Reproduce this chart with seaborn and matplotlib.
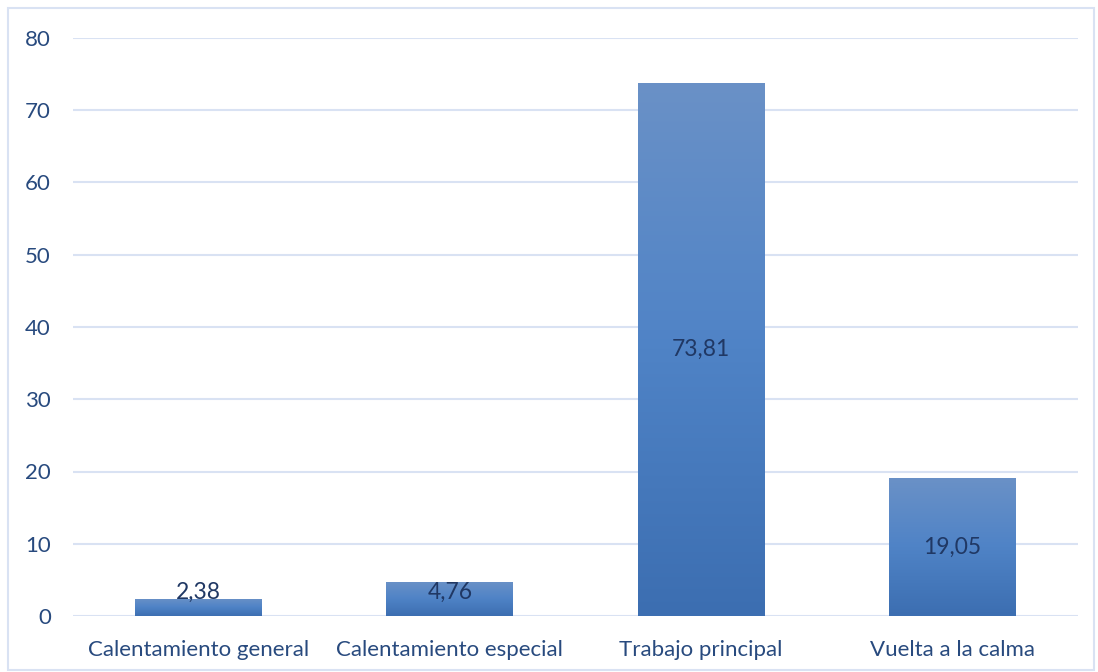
import numpy as np
import pandas as pd
import matplotlib
matplotlib.use("Agg")
import matplotlib.pyplot as plt
import seaborn as sns
from matplotlib.colors import LinearSegmentedColormap
from matplotlib.patches import Rectangle

categories = ["Calentamiento general", "Calentamiento especial",
              "Trabajo principal", "Vuelta a la calma"]
values = [2.38, 4.76, 73.81, 19.05]
value_labels = ["2,38", "4,76", "73,81", "19,05"]
y_ticks = [0, 10, 20, 30, 40, 50, 60, 70, 80]

sns.set_theme(style="white")
plt.rcParams["font.family"] = ["Lato", "DejaVu Sans"]

text_color = "#284a7e"
label_color = "#203864"
grid_color = "#d9e2f3"

df = pd.DataFrame({"fase": categories, "valor": values})

fig = plt.figure(figsize=(10.98, 6.72), dpi=100)
ax = fig.add_axes([73 / 1098, 1 - 616 / 672, (1078 - 73) / 1098, (616 - 38) / 672])

sns.barplot(data=df, x="fase", y="valor", ax=ax, width=0.505,
            color="#4a7bbd", saturation=1, zorder=3)

ax.set_ylim(0, 80)
ax.set_xlim(-0.5, len(categories) - 0.5)
ax.set_yticks(y_ticks)
ax.set_yticklabels([str(t) for t in y_ticks])
ax.set_xlabel("")
ax.set_ylabel("")

# vertical gradient fill for each bar, light at the top and darker at the base
cmap = LinearSegmentedColormap.from_list("bar", ["#3c6eb1", "#4f83c6", "#6a91c7"])
grad = np.linspace(0, 1, 256).reshape(-1, 1)
for patch in ax.patches:
    x0, y0 = patch.get_x(), patch.get_y()
    w, h = patch.get_width(), patch.get_height()
    patch.set_facecolor("none")
    patch.set_edgecolor("none")
    im = ax.imshow(grad, cmap=cmap, origin="lower", aspect="auto",
                   extent=[x0, x0 + w, y0, y0 + h], zorder=3)
    im.set_clip_path(patch)

for i, (v, lab) in enumerate(zip(values, value_labels)):
    ax.text(i, max(v / 2, 3.3), lab, ha="center", va="center",
            fontsize=16.5, color=label_color, zorder=5)

ax.grid(axis="y", color=grid_color, linewidth=1.5, zorder=0)
ax.set_axisbelow(True)
for s in ax.spines.values():
    s.set_visible(False)
ax.tick_params(axis="y", length=0, pad=16, labelsize=16, labelcolor=text_color)
ax.tick_params(axis="x", length=0, pad=17, labelsize=16, labelcolor=text_color)

# chart area frame
fig.patches.append(Rectangle((8 / 1098, 2 / 672), 1086 / 1098, 662 / 672,
                             transform=fig.transFigure, fill=False,
                             edgecolor="#d9e2f3", linewidth=1.5))

fig.savefig("out.png", dpi=100)
